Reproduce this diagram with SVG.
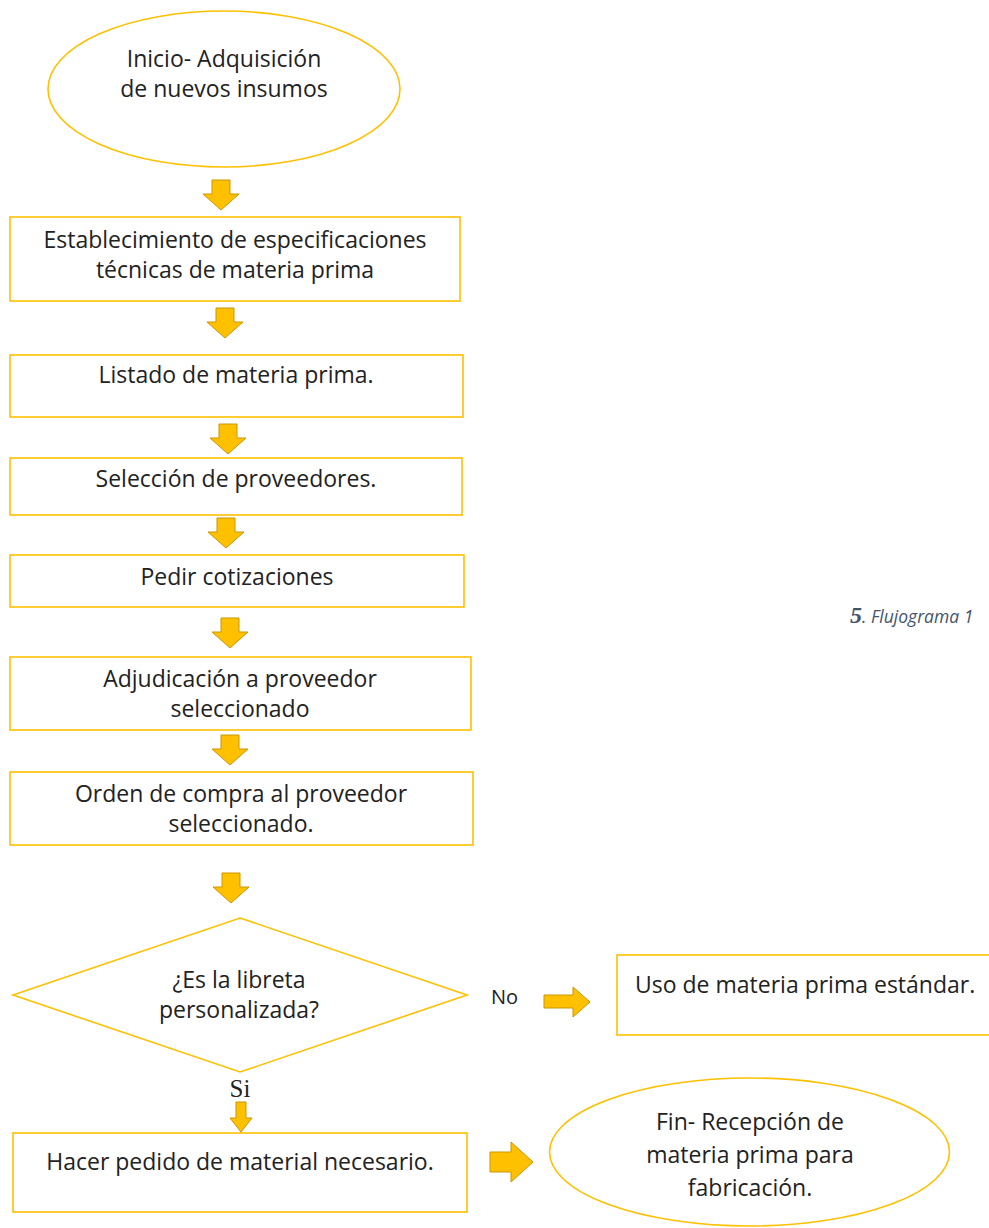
<svg xmlns="http://www.w3.org/2000/svg" width="989" height="1228" viewBox="0 0 989 1228">
<style>
.shape{fill:#fff;stroke:#FFC000;stroke-width:1.6}
.arr{fill:#FFC000;stroke:#C99700;stroke-width:1}
.t{font-family:"Open Sans","Noto Sans",sans-serif;font-size:23px;fill:#222;text-anchor:middle}
.lbl{font-family:"Open Sans","Noto Sans",sans-serif;font-size:20px;fill:#222}
</style>
<defs>
<path id="down" d="M-9,0 H9 V14 H18 L0,30 L-18,14 H-9 Z"/>
</defs>
<rect width="989" height="1228" fill="#fff"/>

<g id="n_inicio">
<ellipse class="shape" cx="224" cy="89" rx="176" ry="78"/>
<text class="t" x="224" y="67">Inicio- Adquisición</text>
<text class="t" x="224" y="97">de nuevos insumos</text>
</g>
<g id="n_espec">
<rect class="shape" x="10" y="217" width="450" height="84"/>
<text class="t" x="235" y="248">Establecimiento de especificaciones</text>
<text class="t" x="235" y="278">técnicas de materia prima</text>
</g>
<g id="n_listado">
<rect class="shape" x="10" y="355" width="453" height="62"/>
<text class="t" x="236" y="383">Listado de materia prima.</text>
</g>
<g id="n_seleccion">
<rect class="shape" x="10" y="458" width="452" height="57"/>
<text class="t" x="236" y="487">Selección de proveedores.</text>
</g>
<g id="n_cotiz">
<rect class="shape" x="10" y="555" width="454" height="52"/>
<text class="t" x="237" y="585">Pedir cotizaciones</text>
</g>
<g id="n_adjud">
<rect class="shape" x="10" y="657" width="461" height="73"/>
<text class="t" x="240" y="687">Adjudicación a proveedor</text>
<text class="t" x="240" y="717">seleccionado</text>
</g>
<g id="n_orden">
<rect class="shape" x="10" y="772" width="463" height="73"/>
<text class="t" x="241" y="802">Orden de compra al proveedor</text>
<text class="t" x="241" y="832">seleccionado.</text>
</g>
<g id="n_decision">
<polygon class="shape" points="240,918 467,995 240,1072 13,995"/>
<text class="t" x="239" y="988">¿Es la libreta</text>
<text class="t" x="239" y="1018">personalizada?</text>
</g>
<g id="n_estandar">
<rect class="shape" x="617" y="955" width="390" height="80"/>
<text class="lbl" x="635" y="993" style="font-size:23px">Uso de materia prima estándar.</text>
</g>
<g id="n_pedido">
<rect class="shape" x="13" y="1133" width="454" height="79"/>
<text class="t" x="240" y="1170">Hacer pedido de material necesario.</text>
</g>
<g id="n_fin">
<ellipse class="shape" cx="749.5" cy="1152" rx="200" ry="74"/>
<text class="t" x="750" y="1130">Fin- Recepción de</text>
<text class="t" x="750" y="1163">materia prima para</text>
<text class="t" x="750" y="1196">fabricación.</text>
</g>

<g id="connectors">
<use href="#down" class="arr" x="221" y="180"/>
<use href="#down" class="arr" x="225" y="308"/>
<use href="#down" class="arr" x="228" y="424"/>
<use href="#down" class="arr" x="226" y="518"/>
<use href="#down" class="arr" x="230" y="618"/>
<use href="#down" class="arr" x="230" y="735"/>
<use href="#down" class="arr" x="231" y="873"/>
<path class="arr" d="M236,1102 H246 V1118 H252 L241,1132 L230,1118 H236 Z"/>
<path class="arr" d="M544,995 H573 V987 L590,1002 L573,1017 V1008 H544 Z"/>
<path class="arr" d="M490,1152 H511 V1142 L533,1162 L511,1182 V1172 H490 Z"/>
<text class="lbl" x="491" y="1004">No</text>
<text x="240" y="1097" style="font-family:'Liberation Serif',serif;font-size:25px;fill:#222;text-anchor:middle">Si</text>
</g>

<g id="caption">
<text x="850" y="623" style="font-family:'Liberation Serif',serif;font-size:24px;font-weight:bold;font-style:italic;fill:#44546A">5<tspan style="font-family:'Open Sans',sans-serif;font-size:17.5px;font-weight:normal">. Flujograma 1</tspan></text>
</g>
</svg>
